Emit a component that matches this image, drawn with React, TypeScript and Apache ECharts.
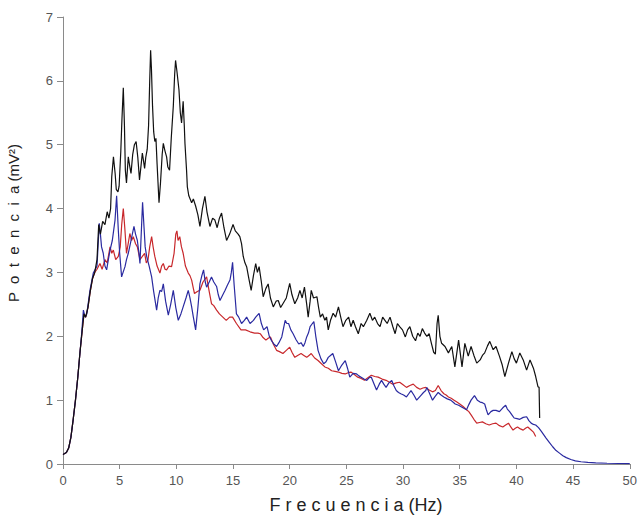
import React, { useEffect, useRef } from "react";
import * as echarts from "echarts";

// Frequency (Hz) / power (mV^2) pairs
const riseCommon: number[][] = [
  [0, 0.15], [0.3, 0.18], [0.5, 0.25], [0.7, 0.42], [0.9, 0.7], [1.1, 1.0], [1.3, 1.35],
  [1.5, 1.75], [1.7, 2.1], [1.85, 2.35], [2.0, 2.3], [2.2, 2.45], [2.4, 2.7], [2.6, 2.9],
  [2.8, 3.0],
];

const blackTail: number[][] = [
  [3.0, 3.2], [3.15, 3.75], [3.3, 3.6], [3.5, 3.8], [3.7, 3.75], [3.9, 3.95], [4.05, 3.85],
  [4.2, 4.0], [4.3, 4.5], [4.45, 4.81], [4.6, 4.55], [4.7, 4.3], [4.85, 4.26], [4.95, 4.35],
  [5.1, 4.9], [5.2, 5.4], [5.32, 5.89], [5.42, 5.3], [5.5, 4.6], [5.6, 4.4], [5.76, 4.81],
  [5.9, 4.65], [6.0, 4.55], [6.15, 4.85], [6.3, 5.0], [6.45, 5.05], [6.6, 4.8], [6.75, 4.45],
  [6.9, 4.7], [7.0, 4.87], [7.1, 4.75], [7.2, 4.63], [7.3, 4.8], [7.43, 4.93], [7.55, 5.3],
  [7.65, 6.0], [7.73, 6.48], [7.8, 6.2], [7.9, 5.6], [8.0, 5.2], [8.1, 5.05], [8.2, 5.1],
  [8.3, 4.7], [8.47, 4.09], [8.6, 4.4], [8.75, 4.85], [8.85, 5.02], [9.0, 4.9], [9.14, 4.81],
  [9.25, 4.65], [9.4, 4.6], [9.55, 5.1], [9.73, 5.6], [9.85, 6.1], [9.93, 6.32], [10.05, 6.15],
  [10.23, 5.86], [10.35, 5.5], [10.46, 5.34], [10.6, 5.68], [10.7, 5.3], [10.76, 5.02],
  [10.9, 4.6], [10.97, 4.34], [11.1, 4.2], [11.35, 4.09], [11.5, 4.15], [11.7, 4.04],
  [11.9, 3.9], [12.08, 3.72], [12.3, 4.0], [12.52, 4.19], [12.7, 3.95], [12.96, 3.72],
  [13.2, 3.85], [13.4, 3.82], [13.6, 3.7], [13.8, 3.85], [13.99, 3.93], [14.2, 3.7],
  [14.43, 3.5], [14.7, 3.6], [15.0, 3.75], [15.2, 3.65], [15.45, 3.6], [15.6, 3.56],
  [15.75, 3.45], [15.9, 3.25], [16.05, 3.15], [16.2, 3.09], [16.4, 2.9], [16.6, 2.72],
  [16.8, 2.95], [17.0, 3.14], [17.15, 3.0], [17.3, 3.09], [17.5, 2.85], [17.66, 2.62],
  [17.9, 2.75], [18.1, 2.82], [18.3, 2.6], [18.55, 2.46], [18.8, 2.55], [18.99, 2.56],
  [19.2, 2.45], [19.4, 2.51], [19.7, 2.6], [20.0, 2.83], [20.2, 2.65], [20.45, 2.51],
  [20.7, 2.6], [20.9, 2.72], [21.1, 2.6], [21.3, 2.77], [21.5, 2.5], [21.63, 2.3],
  [21.8, 2.55], [21.9, 2.72], [22.1, 2.6], [22.4, 2.62], [22.55, 2.45], [22.7, 2.3],
  [22.9, 2.35], [23.1, 2.25], [23.25, 2.3], [23.4, 2.1], [23.6, 2.25], [23.83, 2.36],
  [24.05, 2.3], [24.3, 2.46], [24.5, 2.3], [24.7, 2.15], [24.95, 2.25], [25.2, 2.3],
  [25.4, 2.15], [25.6, 2.25], [25.8, 2.15], [26.05, 2.04], [26.3, 2.2], [26.5, 2.15],
  [26.8, 2.25], [27.07, 2.36], [27.3, 2.25], [27.5, 2.3], [27.75, 2.2], [27.97, 2.15],
  [28.2, 2.3], [28.4, 2.25], [28.6, 2.2], [28.85, 2.3], [29.1, 2.15], [29.3, 2.04],
  [29.5, 2.2], [29.7, 2.15], [29.95, 2.1], [30.2, 1.99], [30.4, 2.1], [30.6, 2.15],
  [30.85, 2.0], [31.1, 1.93], [31.3, 2.05], [31.5, 2.0], [31.7, 2.12], [31.9, 2.05],
  [32.1, 2.0], [32.3, 2.04], [32.5, 1.89], [32.7, 1.75], [32.85, 1.72], [33.0, 2.2],
  [33.1, 2.33], [33.25, 2.0], [33.4, 1.89], [33.7, 1.84], [34.0, 1.74], [34.3, 1.84],
  [34.57, 1.52], [34.9, 1.94], [35.2, 1.52], [35.45, 1.89], [35.75, 1.69], [36.0, 1.84],
  [36.25, 1.7], [36.5, 1.58], [36.8, 1.63], [37.0, 1.7], [37.2, 1.74], [37.45, 1.85],
  [37.65, 1.92], [37.95, 1.79], [38.2, 1.84], [38.5, 1.69], [38.75, 1.55], [38.98, 1.37],
  [39.3, 1.58], [39.6, 1.76], [39.8, 1.65], [40.0, 1.58], [40.3, 1.74], [40.6, 1.63],
  [40.9, 1.47], [41.2, 1.63], [41.5, 1.5], [41.7, 1.37], [41.9, 1.21], [42.0, 1.2],
  [42.05, 0.72],
];

const blueTail: number[][] = [
  [3.0, 3.1], [3.2, 3.77], [3.3, 3.6], [3.4, 3.4], [3.55, 3.3], [3.7, 3.1], [3.85, 3.04],
  [4.0, 3.2], [4.15, 3.35], [4.35, 3.5], [4.59, 3.82], [4.73, 4.2], [4.8, 3.95], [4.88, 3.66],
  [5.0, 3.3], [5.17, 2.93], [5.3, 3.0], [5.47, 3.09], [5.6, 3.2], [5.76, 3.3], [6.0, 3.5],
  [6.26, 3.72], [6.4, 3.6], [6.56, 3.5], [6.7, 3.3], [6.79, 3.14], [6.9, 3.6], [7.02, 4.1],
  [7.15, 3.7], [7.25, 3.4], [7.38, 3.25], [7.6, 3.1], [7.82, 2.93], [8.0, 2.7], [8.26, 2.41],
  [8.4, 2.6], [8.55, 2.72], [8.7, 2.7], [8.85, 2.82], [9.05, 2.55], [9.29, 2.33], [9.5, 2.5],
  [9.73, 2.72], [9.95, 2.45], [10.17, 2.25], [10.4, 2.35], [10.6, 2.46], [10.85, 2.6],
  [11.05, 2.72], [11.2, 2.6], [11.35, 2.46], [11.5, 2.3], [11.7, 2.1], [11.9, 2.45],
  [12.08, 2.82], [12.25, 2.95], [12.4, 3.04], [12.55, 2.85], [12.67, 2.77], [12.9, 2.85],
  [13.1, 2.93], [13.3, 2.85], [13.55, 2.78], [13.7, 2.65], [13.85, 2.56], [14.1, 2.65],
  [14.3, 2.72], [14.5, 2.8], [14.73, 2.88], [14.85, 3.0], [14.96, 3.16], [15.1, 2.8],
  [15.3, 2.35], [15.5, 2.3], [15.75, 2.2], [16.0, 2.25], [16.2, 2.3], [16.5, 2.2],
  [16.8, 2.25], [17.0, 2.3], [17.3, 2.36], [17.5, 2.2], [17.7, 2.1], [18.0, 2.15],
  [18.2, 2.0], [18.4, 1.93], [18.6, 1.88], [18.84, 1.84], [19.05, 1.9], [19.3, 1.99],
  [19.6, 2.25], [19.75, 2.2], [19.9, 2.2], [20.1, 2.1], [20.3, 2.04], [20.55, 1.95],
  [20.8, 1.88], [21.0, 1.9], [21.2, 1.84], [21.35, 1.9], [21.5, 1.99], [21.65, 2.05],
  [21.8, 2.15], [22.0, 2.2], [22.13, 2.23], [22.3, 2.0], [22.5, 1.78], [22.75, 1.65],
  [23.0, 1.57], [23.2, 1.6], [23.4, 1.67], [23.6, 1.7], [23.8, 1.73], [24.05, 1.6],
  [24.3, 1.46], [24.6, 1.55], [24.9, 1.62], [25.1, 1.5], [25.3, 1.36], [25.6, 1.42],
  [25.9, 1.41], [26.1, 1.38], [26.3, 1.36], [26.55, 1.33], [26.8, 1.31], [27.0, 1.35],
  [27.2, 1.36], [27.45, 1.25], [27.66, 1.16], [27.9, 1.25], [28.1, 1.31], [28.3, 1.25],
  [28.5, 1.2], [28.75, 1.27], [29.0, 1.31], [29.2, 1.22], [29.4, 1.15], [29.6, 1.12],
  [29.8, 1.1], [30.05, 1.08], [30.3, 1.05], [30.5, 1.1], [30.7, 1.15], [30.95, 1.08],
  [31.2, 1.0], [31.4, 1.04], [31.6, 1.08], [31.8, 1.12], [32.0, 1.15], [32.1, 1.2],
  [32.35, 1.1], [32.6, 1.0], [32.8, 1.05], [33.1, 1.12], [33.35, 1.08], [33.6, 1.05],
  [33.9, 1.02], [34.2, 1.0], [34.4, 0.97], [34.6, 0.94], [34.9, 0.92], [35.2, 0.89],
  [35.4, 0.87], [35.6, 0.85], [35.8, 0.93], [36.0, 1.0], [36.3, 1.07], [36.55, 1.0],
  [36.8, 0.97], [37.0, 0.96], [37.2, 0.94], [37.35, 0.85], [37.5, 0.77], [37.75, 0.82],
  [37.95, 0.84], [38.2, 0.84], [38.5, 0.82], [38.8, 0.88], [39.05, 0.92], [39.2, 0.86],
  [39.4, 0.82], [39.6, 0.77], [39.8, 0.72], [40.05, 0.71], [40.3, 0.7], [40.6, 0.73],
  [40.9, 0.74], [41.1, 0.68], [41.3, 0.64], [41.5, 0.62], [41.7, 0.61], [41.95, 0.57],
  [42.2, 0.51], [42.4, 0.46], [42.6, 0.41], [42.9, 0.34], [43.2, 0.27], [43.5, 0.21],
  [43.8, 0.17], [44.1, 0.13], [44.4, 0.1], [44.8, 0.07], [45.2, 0.05], [45.7, 0.035],
  [46.3, 0.025], [47, 0.018], [48, 0.012], [49, 0.008], [50, 0.005],
];

const redTail: number[][] = [
  [3.0, 3.05], [3.26, 3.14], [3.45, 3.05], [3.7, 3.2], [3.9, 3.15], [4.15, 3.4], [4.3, 3.3],
  [4.44, 3.35], [4.65, 3.2], [4.88, 3.25], [5.05, 3.4], [5.18, 3.75], [5.32, 4.0], [5.45, 3.7],
  [5.6, 3.3], [5.75, 3.45], [5.9, 3.61], [6.05, 3.5], [6.2, 3.56], [6.4, 3.45], [6.56, 3.4],
  [6.79, 3.2], [7.0, 3.25], [7.2, 3.3], [7.35, 3.15], [7.5, 3.2], [7.65, 3.4], [7.82, 3.56],
  [7.95, 3.4], [8.1, 3.25], [8.3, 3.1], [8.55, 2.99], [8.7, 3.1], [8.85, 3.14], [9.0, 3.05],
  [9.14, 3.04], [9.35, 3.1], [9.58, 3.09], [9.8, 3.3], [9.95, 3.6], [10.05, 3.65],
  [10.15, 3.5], [10.3, 3.56], [10.45, 3.4], [10.6, 3.3], [10.8, 3.1], [11.05, 2.99],
  [11.2, 2.95], [11.35, 2.88], [11.5, 2.75], [11.6, 2.67], [11.85, 2.7], [12.08, 2.72],
  [12.35, 2.85], [12.67, 2.93], [12.9, 2.7], [13.1, 2.51], [13.3, 2.48], [13.55, 2.41],
  [13.8, 2.35], [14.1, 2.3], [14.4, 2.25], [14.7, 2.3], [14.96, 2.3], [15.3, 2.2],
  [15.7, 2.1], [16.1, 2.1], [16.5, 2.07], [16.9, 2.05], [17.2, 2.05], [17.4, 2.04],
  [17.65, 1.98], [17.9, 1.94], [18.1, 1.97], [18.3, 1.99], [18.55, 1.88], [18.84, 1.78],
  [19.1, 1.76], [19.4, 1.73], [19.7, 1.78], [20.0, 1.83], [20.2, 1.75], [20.45, 1.67],
  [20.7, 1.7], [21.0, 1.73], [21.25, 1.7], [21.5, 1.67], [21.7, 1.7], [21.9, 1.73],
  [22.2, 1.66], [22.5, 1.62], [22.8, 1.57], [23.1, 1.52], [23.4, 1.5], [23.7, 1.46],
  [24.0, 1.45], [24.3, 1.44], [24.6, 1.42], [24.9, 1.41], [25.15, 1.43], [25.4, 1.44],
  [25.7, 1.4], [26.0, 1.36], [26.3, 1.34], [26.6, 1.31], [26.9, 1.35], [27.2, 1.39],
  [27.5, 1.37], [27.8, 1.36], [28.15, 1.33], [28.5, 1.31], [28.8, 1.28], [29.1, 1.25],
  [29.4, 1.27], [29.7, 1.28], [30.0, 1.24], [30.3, 1.2], [30.6, 1.23], [30.9, 1.25],
  [31.2, 1.2], [31.5, 1.17], [31.75, 1.19], [32.0, 1.2], [32.3, 1.16], [32.6, 1.13],
  [32.85, 1.15], [33.1, 1.23], [33.35, 1.15], [33.6, 1.1], [33.8, 1.08], [34.0, 1.05],
  [34.25, 1.03], [34.5, 1.0], [34.75, 0.97], [35.0, 0.94], [35.3, 0.9], [35.6, 0.85],
  [35.8, 0.82], [36.0, 0.77], [36.25, 0.7], [36.5, 0.64], [36.75, 0.65], [37.0, 0.66],
  [37.3, 0.63], [37.6, 0.61], [37.9, 0.63], [38.2, 0.64], [38.5, 0.6], [38.8, 0.58],
  [39.05, 0.61], [39.3, 0.64], [39.5, 0.58], [39.7, 0.53], [39.9, 0.56], [40.1, 0.58],
  [40.35, 0.55], [40.6, 0.53], [40.8, 0.56], [41.0, 0.58], [41.25, 0.54], [41.5, 0.5],
  [41.7, 0.43],
];

const blueRiseBump: number[][] = [
  [0, 0.15], [0.3, 0.18], [0.5, 0.25], [0.7, 0.42], [0.9, 0.7], [1.1, 1.0], [1.3, 1.35],
  [1.5, 1.75], [1.65, 2.05], [1.8, 2.41], [1.95, 2.3], [2.1, 2.35], [2.38, 2.72], [2.67, 2.99],
  [2.85, 3.05],
];

const xTicks = { min: 0, max: 50, interval: 5 };
const yTicks = { min: 0, max: 7, interval: 1 };
const xTitle = "F r e c u e n c i a (Hz)";
const yTitle = "P  o  t  e  n  c  i  a (mV²)";

const blackData = [...riseCommon, ...blackTail];
const redData = [...riseCommon, ...redTail];
const blueData = [...blueRiseBump, ...blueTail];

export default function App() {
  const ref = useRef<HTMLDivElement>(null);
  useEffect(() => {
    if (!ref.current) return;
    const chart = echarts.init(ref.current, undefined, { renderer: "svg" });
    const font = "'Liberation Sans', Arial, sans-serif";
    const axisLineColor = "#8a8a8a";
    const labelColor = "#555";
    chart.setOption({
      animation: false,
      backgroundColor: "#fff",
      grid: { left: 63, right: 10, top: 17, bottom: 54, containLabel: false },
      xAxis: {
        type: "value",
        min: xTicks.min,
        max: xTicks.max,
        interval: xTicks.interval,
        splitLine: { show: false },
        axisLine: { show: true, onZero: false, lineStyle: { color: axisLineColor, width: 1 } },
        axisTick: { show: true, length: 5, lineStyle: { color: axisLineColor } },
        axisLabel: { color: labelColor, fontSize: 13, fontFamily: font, margin: 10 },
      },
      yAxis: {
        type: "value",
        min: yTicks.min,
        max: yTicks.max,
        interval: yTicks.interval,
        splitLine: { show: false },
        axisLine: { show: true, onZero: false, lineStyle: { color: axisLineColor, width: 1 } },
        axisTick: { show: true, length: 6, lineStyle: { color: axisLineColor } },
        axisLabel: { color: labelColor, fontSize: 13, fontFamily: font, margin: 10 },
      },
      graphic: [
        {
          type: "text",
          x: 356,
          y: 505,
          style: {
            text: xTitle,
            fill: "#222",
            font: `18px ${font}`,
            align: "center",
            verticalAlign: "middle",
          },
        },
        {
          type: "text",
          x: 13,
          y: 223,
          rotation: Math.PI / 2,
          style: {
            text: yTitle,
            fill: "#222",
            font: `15px ${font}`,
            align: "center",
            verticalAlign: "middle",
          },
        },
      ],
      series: [
        {
          type: "line",
          data: redData,
          showSymbol: false,
          symbol: "none",
          lineStyle: { color: "#c8282c", width: 1.2 },
          z: 2,
        },
        {
          type: "line",
          data: blueData,
          showSymbol: false,
          symbol: "none",
          lineStyle: { color: "#2a2aa0", width: 1.2 },
          z: 3,
        },
        {
          type: "line",
          data: blackData,
          showSymbol: false,
          symbol: "none",
          lineStyle: { color: "#111", width: 1.2 },
          z: 4,
        },
      ],
    });
    return () => chart.dispose();
  }, []);
  return (
    <div
      ref={ref}
      style={{ position: "fixed", left: 0, top: 0, width: 640, height: 518, background: "#fff" }}
    />
  );
}
